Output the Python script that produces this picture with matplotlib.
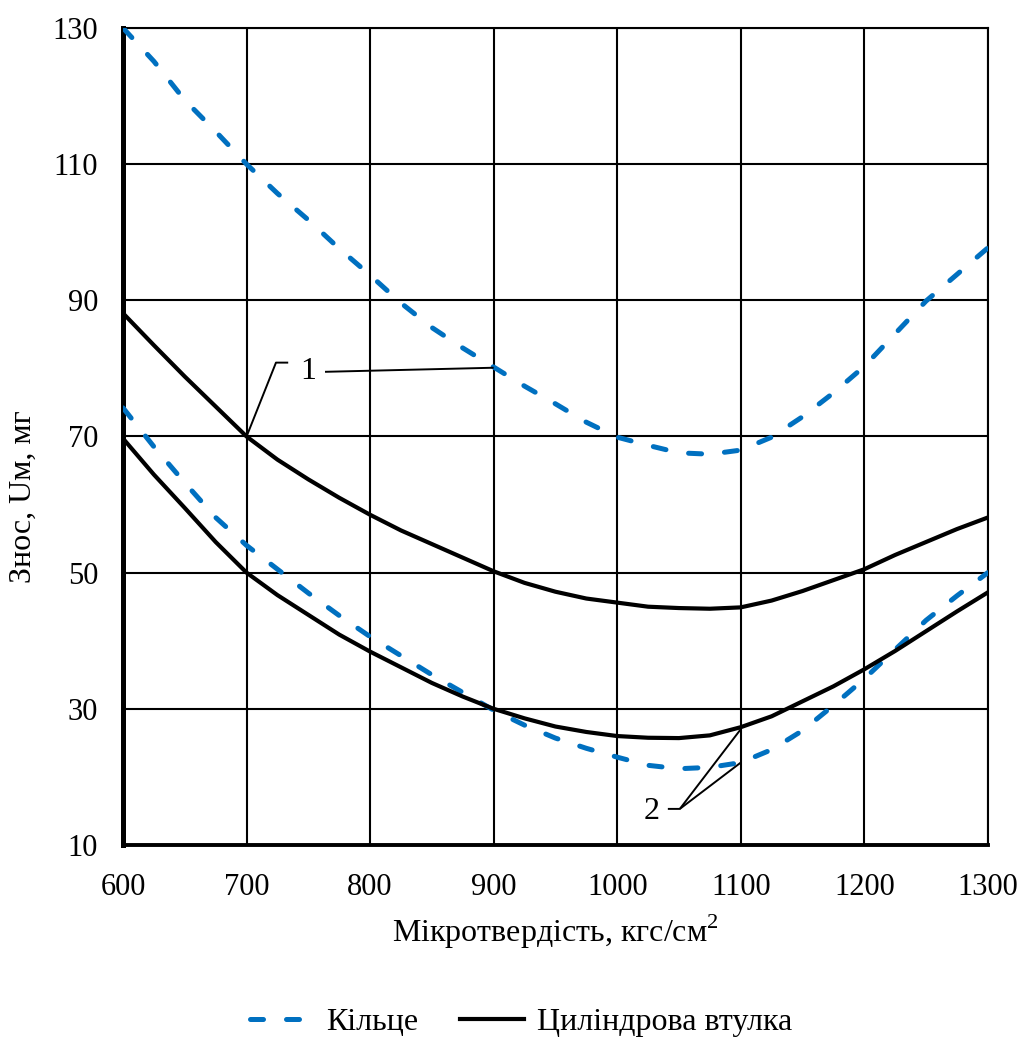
import matplotlib
matplotlib.use("Agg")
import matplotlib.pyplot as plt

plt.rcParams['font.family'] = ['Liberation Serif', 'DejaVu Serif']
plt.rcParams['mathtext.fontset'] = 'custom'
plt.rcParams['mathtext.rm'] = 'Liberation Serif'

# hardness values (x) and wear readings
hardness = [600, 625, 650, 675, 700, 725, 750, 775, 800, 825, 850, 875, 900, 925, 950,
            975, 1000, 1025, 1050, 1075, 1100, 1125, 1150, 1175, 1200, 1225, 1250, 1275, 1300]

ring_1 = [130.0, 125.1, 119.4, 114.8, 110.0, 105.7, 101.8, 97.6, 93.7, 89.6, 86.0, 83.0, 80.2, 77.4, 74.8,
          72.1, 69.9, 68.7, 67.6, 67.4, 68.0, 69.9, 72.9, 76.4, 80.3, 85.1, 89.9, 93.8, 97.7]
ring_2 = [74.2, 68.5, 63.2, 58.1, 54.0, 50.5, 47.0, 43.7, 40.6, 37.8, 35.0, 32.4, 29.8, 27.6, 25.7,
          24.2, 22.9, 21.7, 21.2, 21.4, 22.1, 24.0, 26.8, 30.5, 34.4, 38.7, 43.0, 46.6, 50.0]
sleeve_1 = [88.1, 83.4, 78.8, 74.4, 70.0, 66.6, 63.7, 61.0, 58.5, 56.2, 54.2, 52.2, 50.2, 48.5, 47.2,
            46.2, 45.6, 45.0, 44.8, 44.7, 44.9, 45.9, 47.3, 48.9, 50.5, 52.6, 54.5, 56.4, 58.1]
sleeve_2 = [69.7, 64.4, 59.5, 54.5, 50.0, 46.7, 43.8, 40.9, 38.4, 36.1, 33.8, 31.8, 30.0, 28.6, 27.4,
            26.6, 26.0, 25.75, 25.7, 26.1, 27.3, 28.9, 31.1, 33.3, 35.8, 38.5, 41.4, 44.3, 47.1]

x_ticks = [600, 700, 800, 900, 1000, 1100, 1200, 1300]
y_ticks = [10, 30, 50, 70, 90, 110, 130]

blue = '#0070C0'
fs = 23

fig = plt.figure(figsize=(10.21, 10.41), dpi=100)
ax = fig.add_axes([0.1205, 0.1883, 0.847, 0.7848])

dash_kw = dict(color=blue, lw=3.6, dashes=(2.6, 4.6), dash_capstyle='round', zorder=4)
ax.plot(hardness, ring_1, label='Кільце', **dash_kw)
ax.plot(hardness, ring_2, **dash_kw)
ax.plot(hardness, sleeve_1, color='black', lw=3.0, label='Циліндрова втулка', zorder=5)
ax.plot(hardness, sleeve_2, color='black', lw=3.0, zorder=5)

# leader lines for curve labels
lead = dict(color='black', lw=1.4, zorder=6, solid_capstyle='butt')
ax.plot([700, 723.8, 733.7], [70, 80.85, 80.85], **lead)
ax.plot([763.5, 900], [79.5, 80.1], **lead)
ax.text(749.7, 79.5, '1', fontsize=fs, ha='center', va='center', zorder=7)

ax.plot([1041, 1050.7, 1100], [15.3, 15.3, 27.0], **lead)
ax.plot([1050.7, 1100], [15.3, 22.1], **lead)
ax.text(1028, 14.9, '2', fontsize=fs, ha='center', va='center', zorder=7)

ax.set_xlim(600, 1300)
ax.set_ylim(10, 130)
ax.set_xticks(x_ticks)
ax.set_yticks(y_ticks)
ax.grid(True, color='black', lw=1.5)
ax.set_axisbelow(True)
ax.tick_params(length=0, labelsize=22)
ax.tick_params(axis='y', pad=18)
ax.tick_params(axis='x', pad=20)

for side in ['top', 'right']:
    ax.spines[side].set_linewidth(1.5)
ax.spines['left'].set_linewidth(3.6)
ax.spines['bottom'].set_linewidth(2.8)

ax.set_xlabel('Мікротвердість, кгс/см$^{2}$', fontsize=fs, labelpad=8)
ax.set_ylabel('Знос, Uм, мг', fontsize=fs)
ax.yaxis.set_label_coords(-0.098, 0.426)

fig.legend(loc='lower center', bbox_to_anchor=(0.51, -0.024), ncol=2, frameon=False,
           fontsize=fs, handlelength=2.0, handletextpad=0.4, columnspacing=1.3)

fig.savefig('out.png', dpi=100)
